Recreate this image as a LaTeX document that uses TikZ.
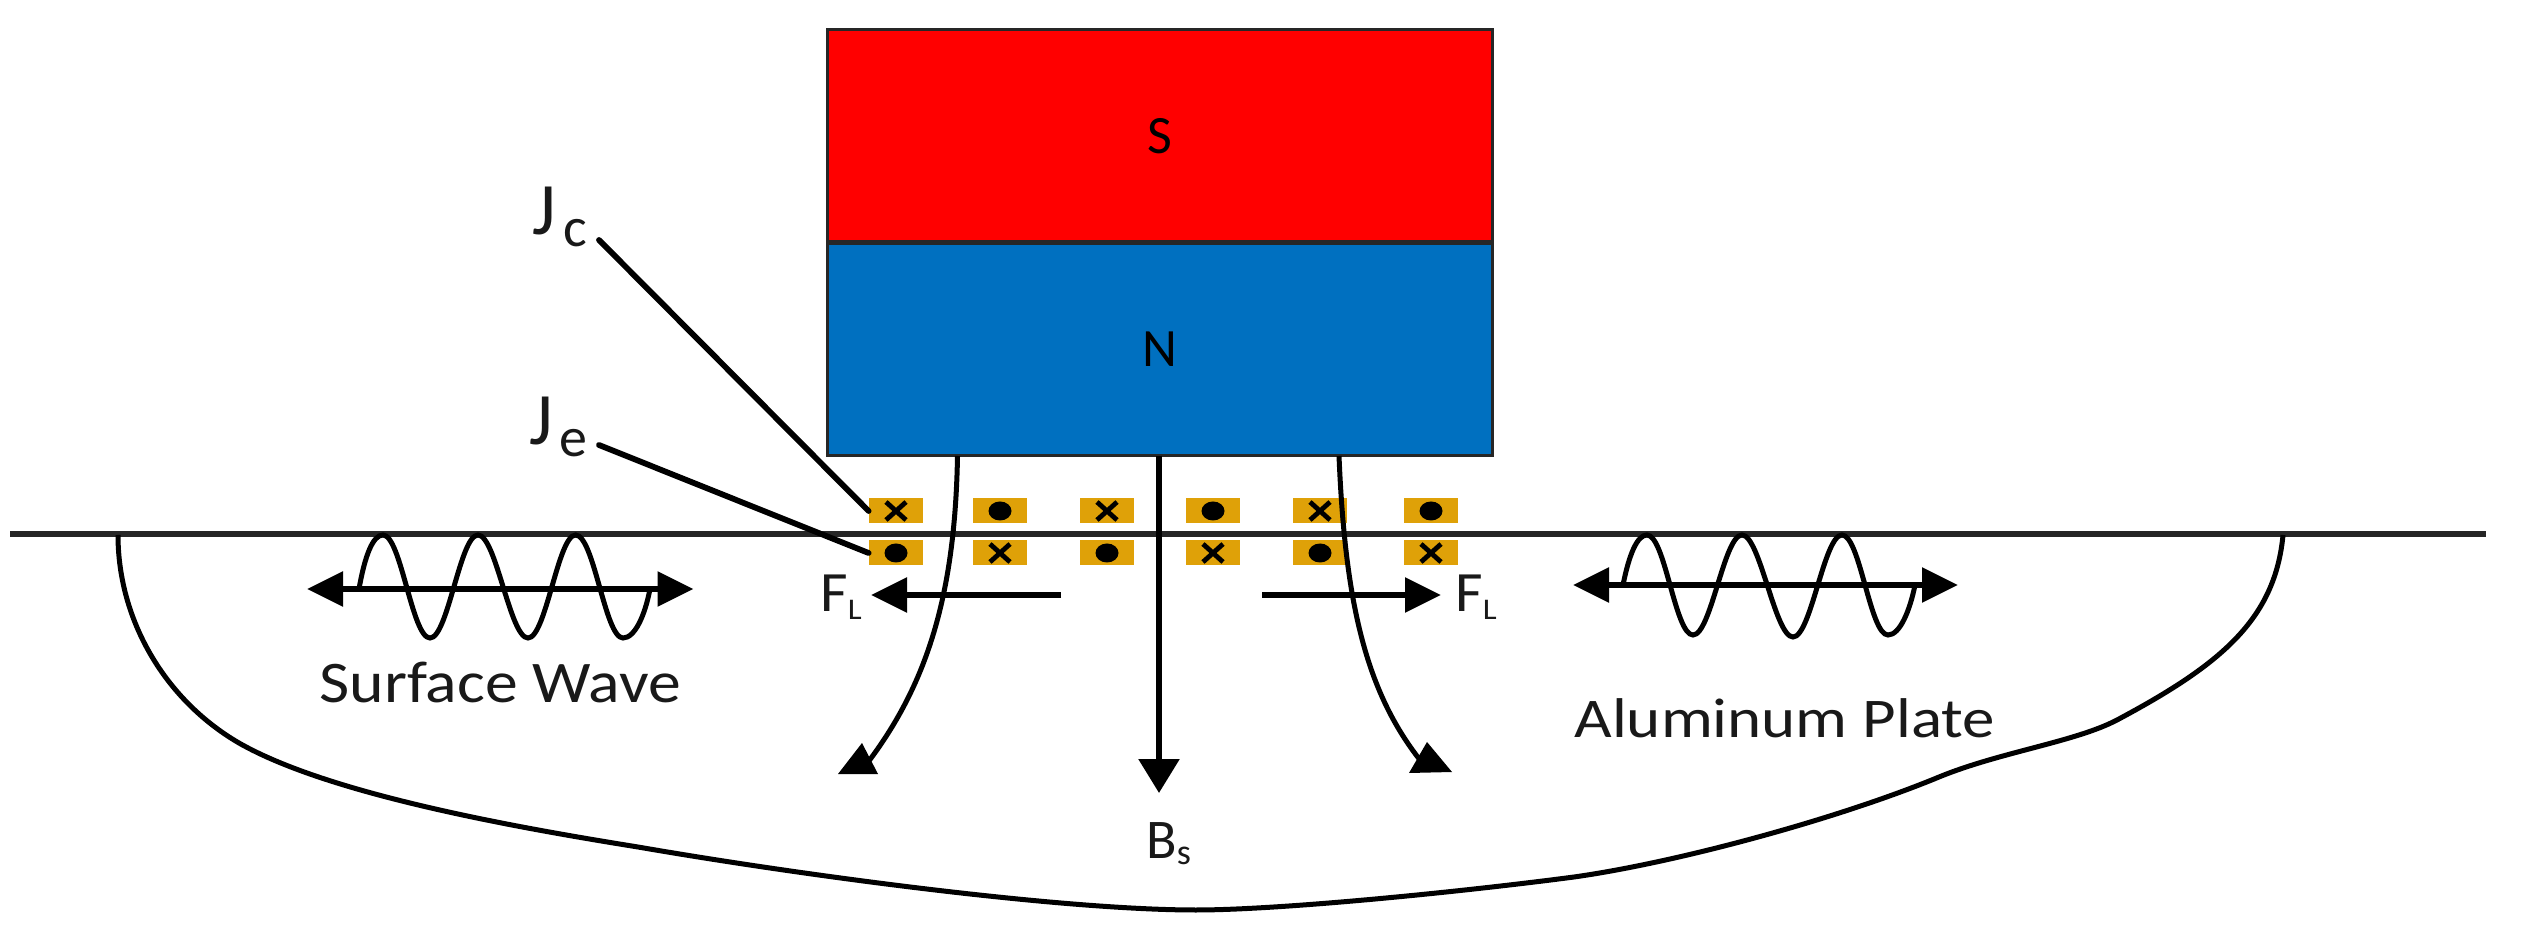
\documentclass[tikz,border=0pt]{standalone}
\usepackage{graphicx}
\usepackage{fontspec}
\setmainfont{Carlito}
\usetikzlibrary{arrows.meta}
\tikzset{
  magnet/.style={draw=black!85,line width=1.5pt,minimum width=332.5pt,minimum height=106pt,inner sep=0pt,text=black,font=\fontsize{27}{27}\selectfont},
  coil/.style={fill=coilgold,minimum width=27pt,minimum height=12.5pt,inner sep=0pt},
  wire/.style={line width=2.9pt,black,line cap=round},
  thinwire/.style={line width=2.5pt,black},
  force/.style={line width=3pt,black,-{Triangle[length=18pt,width=17pt]}},
  wavearrow/.style={line width=3pt,black,{Triangle[length=18pt,width=17pt]}-{Triangle[length=18pt,width=17pt]}},
  tip/.style={fill=black,draw=none},
  lab/.style={anchor=base west,inner sep=0pt,text=black!90}
}
\definecolor{coilgold}{HTML}{DFA108}
\definecolor{magred}{HTML}{FF0000}
\definecolor{magblue}{HTML}{0070C0}
\newcommand{\flab}{\scalebox{1.05}[1]{F}\raisebox{-4pt}{\fontsize{15}{15}\selectfont\scalebox{1.1}[1]{L}}}
\begin{document}
\begin{tikzpicture}[x=0.5pt,y=-0.5pt]
\useasboundingbox (0,0) rectangle (2521,929);
% coils
\foreach \n/\cx/\tt/\bb in {1/896/x/d,2/1000/d/x,3/1107/x/d,4/1213/d/x,5/1320/x/d,6/1431/d/x}{
  \node[coil] (t\n) at (\cx,511) {};
  \node[coil] (b\n) at (\cx,553) {};
  \foreach \nm/\kk in {t\n/\tt,b\n/\bb}{
    \if\kk x
      \draw[line width=2.4pt,black] ([shift={(-10,-9)}]\nm.center) -- ([shift={(10,9)}]\nm.center) ([shift={(-10,9)}]\nm.center) -- ([shift={(10,-9)}]\nm.center);
    \else
      \fill[black] (\nm.center) ellipse [x radius=11.5,y radius=9.5];
    \fi
  }
}
% surface
\coordinate (sl) at (10,534);
\coordinate (sr) at (2486,534);
\draw[line width=3pt,black!85] (sl) -- (sr);
% magnet
\node[magnet,fill=magred] (mS) at (1159.5,136) {S};
\node[magnet,fill=magblue] (mN) at (1159.5,349.5) {N};
% plate outline
\draw[thinwire] (118,535) .. controls (118,620) and (165,700) .. (239,743)
  .. controls (330,795) and (520,828) .. (638,847)
  .. controls (800,875) and (1060,910) .. (1196,910)
  .. controls (1280,910) and (1460,892) .. (1574,877)
  .. controls (1680,862) and (1840,818) .. (1939,777)
  .. controls (2000,752) and (2075,742) .. (2117,720)
  .. controls (2220,665) and (2275,620) .. (2283,535);
% field lines
\coordinate (fl0) at (957.5,456);
\coordinate (fc0) at (1159,456);
\coordinate (fr0) at (1339,456);
\coordinate (fct) at (1159,793);
\coordinate (fl1) at (862,770);
\coordinate (fr1) at (1420,760);
\draw[wire,line cap=butt,-{Triangle[length=17pt,width=20pt]}] (fc0) -- (fct);
\draw[thinwire] (fl0) .. controls (955,600) and (925,690) .. (fl1);
\fill[tip] (838,774) -- (878,774) -- (862,743) -- cycle;
\draw[thinwire] (fr0) .. controls (1345,600) and (1365,690) .. (fr1);
\fill[tip] (1409,773) -- (1452,772) -- (1427,742) -- cycle;
% Lorentz forces
\coordinate (fa1) at (1061,595);
\coordinate (fa2) at (871,595);
\coordinate (fb1) at (1262,595);
\coordinate (fb2) at (1441,595);
\draw[force] (fa1) -- (fa2);
\draw[force] (fb1) -- (fb2);
% waves
\coordinate (wl1) at (307,589);
\coordinate (wl2) at (693.5,589);
\draw[wavearrow] (wl1) -- (wl2);
\draw[thinwire] (359,589) .. controls (365,555) and (373,535) .. (383,535)
  .. controls (401,535) and (412,638) .. (430,638)
  .. controls (448,638) and (460,535) .. (478,535)
  .. controls (496,535) and (510,638) .. (528,638)
  .. controls (546,638) and (558,535) .. (575.6,535)
  .. controls (594,535) and (605,638) .. (623,638)
  .. controls (635,638) and (645,615) .. (650,589);
\coordinate (wr1) at (1573,585);
\coordinate (wr2) at (1958,585);
\draw[wavearrow] (wr1) -- (wr2);
\draw[thinwire] (1623,585) .. controls (1629,555) and (1637,535) .. (1647,535)
  .. controls (1665,535) and (1675,635) .. (1693,635)
  .. controls (1711,635) and (1724,535) .. (1742,535)
  .. controls (1760,535) and (1775,637) .. (1793,637)
  .. controls (1811,637) and (1824,535) .. (1842,535)
  .. controls (1860,535) and (1870,635) .. (1888,635)
  .. controls (1900,635) and (1910,610) .. (1915,585);
% J leaders
\coordinate (jc) at (599,240);
\coordinate (je) at (599,445);
\draw[wire] (jc) -- (t1.west);
\draw[wire] (je) -- (b1.west);
% labels
\node[lab,font=\fontsize{37}{37}\selectfont] (lJc) at (532,235) {J\kern3.5pt\raisebox{-6pt}{\fontsize{28}{28}\selectfont c}};
\node[lab,font=\fontsize{37}{37}\selectfont] (lJe) at (529,445) {J\kern3pt\raisebox{-6pt}{\fontsize{28}{28}\selectfont e}};
\node[lab,font=\fontsize{28.5}{28.5}\selectfont] (lF1) at (820,612) {\flab};
\node[lab,font=\fontsize{28.5}{28.5}\selectfont] (lF2) at (1455,612) {\flab};
\node[lab,font=\fontsize{28}{28}\selectfont] (lB) at (1146,858) {B\raisebox{-3pt}{\fontsize{18}{18}\selectfont s}};
\node[lab,font=\fontsize{29.5}{29.5}\selectfont] (lS) at (319,703) {\scalebox{1.114}[1]{Surface Wave}};
\node[lab,font=\fontsize{28}{28}\selectfont] (lA) at (1574,738) {\scalebox{1.16}[1]{Aluminum Plate}};
\end{tikzpicture}
\end{document}
